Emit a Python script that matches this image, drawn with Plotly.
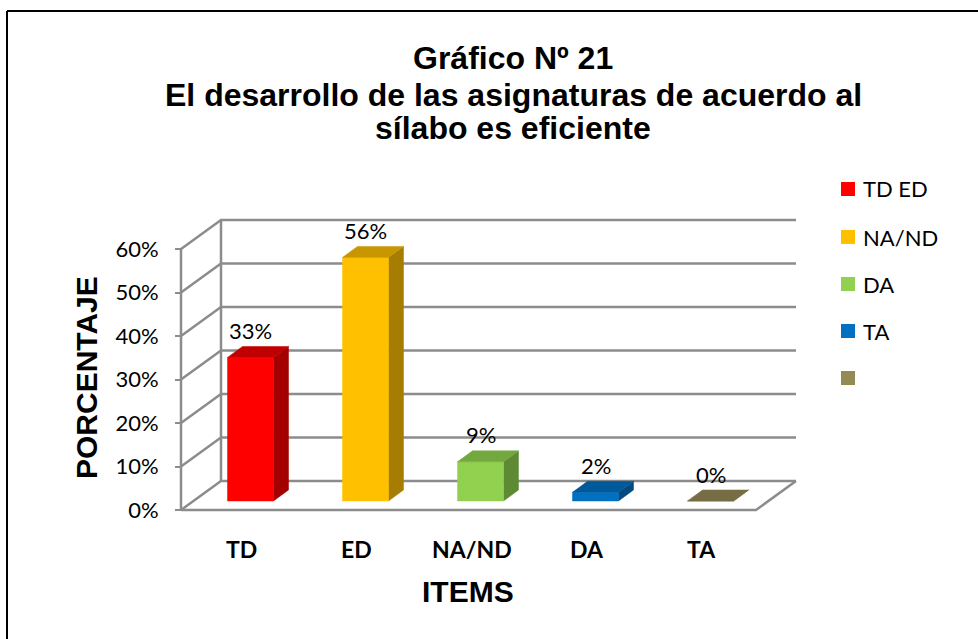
import plotly.graph_objects as go

categories = ["TD", "ED", "NA/ND", "DA", "TA"]
values = [33, 56, 9, 2, 0]
legend_labels = ["TD ED", "NA/ND", "DA", "TA", ""]
y_ticks = [0, 10, 20, 30, 40, 50, 60]
y_ticktext = ["0%", "10%", "20%", "30%", "40%", "50%", "60%"]

front_colors = ["#FF0000", "#FFC000", "#92D050", "#0070C0", "#948A54"]
side_colors = ["#A50000", "#A67D00", "#5F8A34", "#004A80", "#615A37"]
top_colors = ["#C00000", "#C89600", "#73A83F", "#00599A", "#776D44"]

W, H = 978, 639
# the page comes out slightly squashed vertically, map pixels against this height
H_map = 631
grid_col = "#8C8C8C"

# pixel placement of the plot box (front-left-bottom corner at 181,510)
sx, sy = 115.0, 4.35
ox_px, oy_px = 181, 510
xr = [-0.6, 4.95]
yr = [-1.0, 68.0]
dom_x = [(ox_px + (xr[0] + 0.5) * sx) / W, (ox_px + (xr[1] + 0.5) * sx) / W]
dom_y = [(H_map - (oy_px - yr[0] * sy)) / H_map, (H_map - (oy_px - yr[1] * sy)) / H_map]

# depth of the walls and of the bars (data units)
wall_dx, wall_dy = 40 / sx, 29 / sy
bar_ox, bar_oy = 12 / sx, 9 / sy
bar_dx, bar_dy = 15 / sx, 11 / sy
bar_w = 0.4


def fx(px):
    return px / W


def fy(py):
    return 1 - py / H_map


fig = go.Figure()

# walls / gridlines
gx, gy = [], []
x_front, x_back = -0.5, -0.5 + wall_dx
x_end = len(categories) - 0.5
for t in y_ticks:
    gx += [x_front, x_back, x_end + wall_dx, None]
    gy += [t, t + wall_dy, t + wall_dy, None]
gx += [x_front, x_front, None, x_back, x_back, None]
gy += [0, y_ticks[-1], None, wall_dy, y_ticks[-1] + wall_dy, None]
gx += [x_front, x_end, x_end + wall_dx]
gy += [0, 0, wall_dy]
fig.add_trace(go.Scatter(x=gx, y=gy, mode="lines",
                         line=dict(color=grid_col, width=2.5),
                         hoverinfo="skip", showlegend=False))

# 3D bars
for i, v in enumerate(values):
    x0 = i + bar_ox - bar_w / 2
    x1 = i + bar_ox + bar_w / 2
    b = bar_oy
    t = bar_oy + v
    side_x = [x1, x1 + bar_dx, x1 + bar_dx, x1, x1]
    side_y = [b, b + bar_dy, t + bar_dy, t, b]
    front_x = [x0, x1, x1, x0, x0]
    front_y = [b, b, t, t, b]
    top_x = [x0, x1, x1 + bar_dx, x0 + bar_dx, x0]
    top_y = [t, t, t + bar_dy, t + bar_dy, t]
    for px_, py_, col in [(side_x, side_y, side_colors[i]),
                          (front_x, front_y, front_colors[i]),
                          (top_x, top_y, top_colors[i])]:
        fig.add_trace(go.Scatter(x=px_, y=py_, mode="lines", fill="toself",
                                 fillcolor=col, line=dict(color=col, width=0.5),
                                 hoverinfo="skip", showlegend=False))
    fig.add_annotation(x=i + bar_ox, y=t + bar_dy, xref="x", yref="y",
                       text=f"{v}%", showarrow=False, xanchor="center", yanchor="middle",
                       yshift=16, font=dict(family="Lato", size=22, color="black"))

# category labels
for i, c in enumerate(categories):
    fig.add_annotation(x=i + 0.03, y=fy(549), xref="x", yref="paper", text=f"<b>{c}</b>",
                       showarrow=False, xanchor="center", yanchor="middle",
                       font=dict(family="Lato", size=23, color="black"))

# titles
title_lines = ["Gráfico Nº 21", "El desarrollo de las asignaturas de acuerdo al", "sílabo es eficiente"]
title_y = [58, 95, 128]
for line, yy in zip(title_lines, title_y):
    fig.add_annotation(x=fx(513), y=fy(yy), xref="paper", yref="paper", text=f"<b>{line}</b>",
                       showarrow=False, xanchor="center", yanchor="middle",
                       font=dict(family="Liberation Sans", size=32, color="black"))
fig.add_annotation(x=fx(86), y=fy(378), xref="paper", yref="paper", text="<b>PORCENTAJE</b>",
                   textangle=-90, showarrow=False, xanchor="center", yanchor="middle",
                   font=dict(family="Liberation Sans", size=30, color="black"))
fig.add_annotation(x=fx(468), y=fy(591), xref="paper", yref="paper", text="<b>ITEMS</b>",
                   showarrow=False, xanchor="center", yanchor="middle",
                   font=dict(family="Liberation Sans", size=30, color="black"))

# legend
leg_y = [189, 237, 284, 331, 378]
for lab, col, yy in zip(legend_labels, front_colors, leg_y):
    fig.add_shape(type="rect", xref="paper", yref="paper",
                  x0=fx(841), x1=fx(855), y0=fy(yy + 7), y1=fy(yy - 7),
                  fillcolor=col, line=dict(width=0))
    if lab:
        fig.add_annotation(x=fx(861), y=fy(yy), xref="paper", yref="paper", text=lab,
                           xanchor="left", yanchor="middle", showarrow=False,
                           font=dict(family="Lato", size=22, color="black"))

# outer border (top and left visible)
fig.add_shape(type="line", xref="paper", yref="paper", x0=fx(7), x1=fx(990), y0=fy(11), y1=fy(11),
              line=dict(color="black", width=2))
fig.add_shape(type="line", xref="paper", yref="paper", x0=fx(7), x1=fx(7), y0=fy(11), y1=fy(660),
              line=dict(color="black", width=2))

fig.update_layout(
    width=W, height=H,
    margin=dict(l=0, r=0, t=0, b=0),
    paper_bgcolor="white", plot_bgcolor="rgba(0,0,0,0)",
    showlegend=False,
    xaxis=dict(domain=dom_x, range=xr, visible=False),
    yaxis=dict(domain=dom_y, range=yr, anchor="free", position=ox_px / W,
               tickvals=y_ticks, ticktext=y_ticktext, ticks="outside", ticklen=6,
               tickwidth=2, tickcolor=grid_col, showline=False, showgrid=False,
               zeroline=False, ticklabelstandoff=12,
               tickfont=dict(family="Lato", size=22, color="black")),
)

fix_page = ("document.body.style.margin='0';"
            "document.body.style.overflow='hidden';"
            "document.documentElement.style.overflow='hidden';")
fig.write_html("out.html", config={"displayModeBar": False}, post_script=fix_page)
